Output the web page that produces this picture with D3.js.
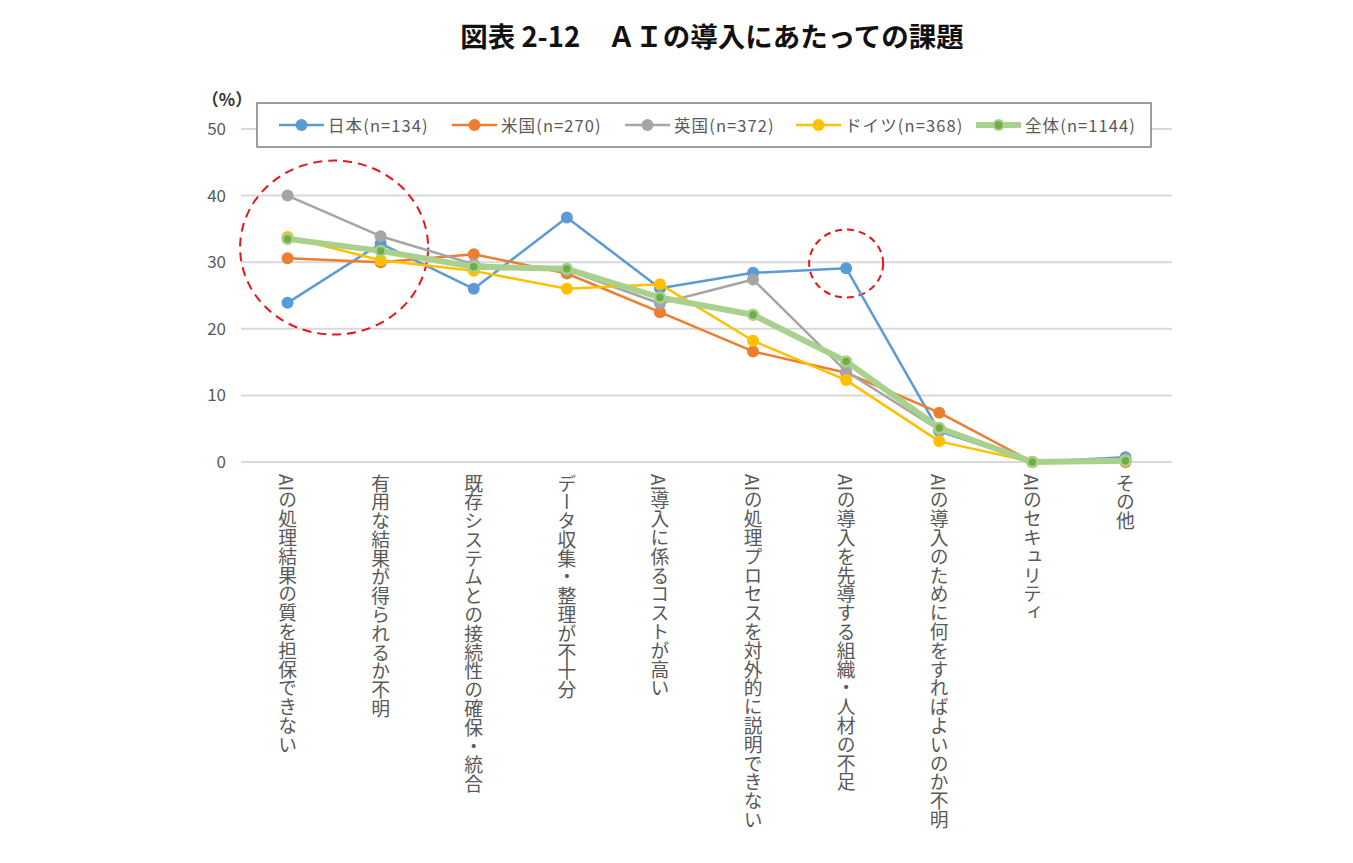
<!DOCTYPE html>
<meta charset="utf-8">
<script src="https://d3js.org/d3.v7.min.js"></script>
<style>
  body { margin: 0; background: #fff; }
  text { font-family: "Noto Sans CJK JP", "Noto Sans", sans-serif; }
</style>
<div id="chart"></div>
<script>
// categories (x axis)
var categories = [
  "AIの処理結果の質を担保できない",
  "有用な結果が得られるか不明",
  "既存システムとの接続性の確保・統合",
  "データ収集・整理が不十分",
  "AI導入に係るコストが高い",
  "AIの処理プロセスを対外的に説明できない",
  "AIの導入を先導する組織・人材の不足",
  "AIの導入のために何をすればよいのか不明",
  "AIのセキュリティ",
  "その他"
];

// series values (%)
var japan   = [23.9, 32.8, 26.0, 36.7, 26.1, 28.4, 29.1, 4.6, 0.0, 0.7];
var usa     = [30.6, 30.0, 31.2, 28.3, 22.5, 16.6, 13.4, 7.4, 0.0, 0.0];
var uk      = [40.0, 33.9, 29.7, 28.8, 23.8, 27.4, 13.6, 4.8, 0.0, 0.4];
var germany = [33.8, 30.3, 28.7, 26.0, 26.7, 18.2, 12.3, 3.1, 0.0, 0.2];
var total   = [33.5, 31.7, 29.3, 29.0, 24.7, 22.1, 15.1, 5.1, 0.0, 0.2];

var seriesNames = ["日本(n=134)", "米国(n=270)", "英国(n=372)", "ドイツ(n=368)", "全体(n=1144)"];
var yTicks = [0, 10, 20, 30, 40, 50];

var series = [
  { name: seriesNames[0], values: japan,   line: "#5B9BD5", fill: "#5B9BD5", width: 2.5 },
  { name: seriesNames[1], values: usa,     line: "#ED7D31", fill: "#ED7D31", width: 2.5 },
  { name: seriesNames[2], values: uk,      line: "#A5A5A5", fill: "#A5A5A5", width: 2.5 },
  { name: seriesNames[3], values: germany, line: "#FFC000", fill: "#FFC000", width: 2.5 },
  { name: seriesNames[4], values: total,   line: "#A9D18E", fill: "#70AD47", width: 6 }
];

var W = 1353, H = 863;
var svg = d3.select("#chart").append("svg")
    .attr("width", W).attr("height", H);

// title
svg.append("text")
    .attr("x", 712).attr("y", 47)
    .attr("text-anchor", "middle")
    .style("font-size", "27.5px").style("font-weight", "bold")
    .attr("fill", "#111")
    .text("図表 2-12　ＡＩの導入にあたっての課題");

// scales
var x = d3.scaleBand().domain(categories).range([241, 1172]);
var cx = function(i) { return x(categories[i]) + x.bandwidth() / 2; };
var y = d3.scaleLinear().domain([0, 50]).range([462, 129]);

// gridlines
svg.append("g").selectAll("line")
    .data(yTicks).enter().append("line")
    .attr("x1", 241).attr("x2", 1172)
    .attr("y1", function(d){ return y(d) }).attr("y2", function(d){ return y(d) })
    .attr("stroke", "#d9d9d9").attr("stroke-width", 2);

// y axis labels
var yAxis = svg.append("g")
    .attr("transform", "translate(226,0)")
    .call(d3.axisLeft(y).tickValues(yTicks).tickSize(0).tickPadding(0));
yAxis.select(".domain").remove();
yAxis.selectAll("text")
    .style("font-size", "17px").style("font-family", "'Noto Sans CJK JP', sans-serif")
    .attr("fill", "#595959");

svg.append("text")
    .attr("x", 227).attr("y", 106)
    .attr("text-anchor", "middle")
    .style("font-size", "17px").style("font-weight", "bold")
    .attr("fill", "#333")
    .text("（%）");

// x category labels, vertical writing
svg.append("g").selectAll("text")
    .data(categories).enter().append("text")
    .attr("x", function(d){ return x(d) + x.bandwidth() / 2 })
    .attr("y", 474)
    .style("writing-mode", "vertical-rl")
    .style("font-size", "18.8px")
    .attr("fill", "#595959")
    .text(function(d){ return d });

// red dashed annotation ellipses
svg.append("ellipse")
    .attr("cx", (cx(0) + cx(1)) / 2).attr("cy", y(32.2))
    .attr("rx", 94).attr("ry", 87)
    .attr("fill", "none").attr("stroke", "#e8141b")
    .attr("stroke-width", 2).attr("stroke-dasharray", "9,6");
svg.append("ellipse")
    .attr("cx", cx(6)).attr("cy", y(29.8))
    .attr("rx", 37).attr("ry", 34)
    .attr("fill", "none").attr("stroke", "#e8141b")
    .attr("stroke-width", 2).attr("stroke-dasharray", "7,5");

// lines and markers
var line = d3.line()
    .x(function(d, i){ return cx(i) })
    .y(function(d){ return y(d) });

series.forEach(function(s) {
    var g = svg.append("g");
    g.append("path")
        .attr("d", line(s.values))
        .attr("fill", "none")
        .attr("stroke", s.line)
        .attr("stroke-width", s.width)
        .attr("stroke-linejoin", "round");
    g.selectAll("circle")
        .data(s.values).enter().append("circle")
        .attr("cx", function(d, i){ return cx(i) })
        .attr("cy", function(d){ return y(d) })
        .attr("r", s.width > 3 ? 5 : 6)
        .attr("fill", s.fill)
        .attr("stroke", s.line)
        .attr("stroke-width", s.width > 3 ? 2.5 : 0);
});

// legend
svg.append("rect")
    .attr("x", 257).attr("y", 103)
    .attr("width", 894).attr("height", 44)
    .attr("fill", "#fff").attr("stroke", "#7f7f7f").attr("stroke-width", 1.5);

var legendX = [279, 452, 625, 796, 976];
series.forEach(function(s, i) {
    var g = svg.append("g").attr("transform", "translate(" + legendX[i] + ",125)");
    g.append("line")
        .attr("x1", 0).attr("x2", 45)
        .attr("stroke", s.line).attr("stroke-width", s.width);
    g.append("circle")
        .attr("cx", 22.5).attr("r", s.width > 3 ? 5 : 6)
        .attr("fill", s.fill)
        .attr("stroke", s.line).attr("stroke-width", s.width > 3 ? 2 : 0);
    g.append("text")
        .attr("x", 49).attr("y", 0)
        .attr("dominant-baseline", "central")
        .style("font-size", "16.5px")
        .style("letter-spacing", "1.1px")
        .attr("fill", "#595959")
        .text(s.name);
});
</script>
